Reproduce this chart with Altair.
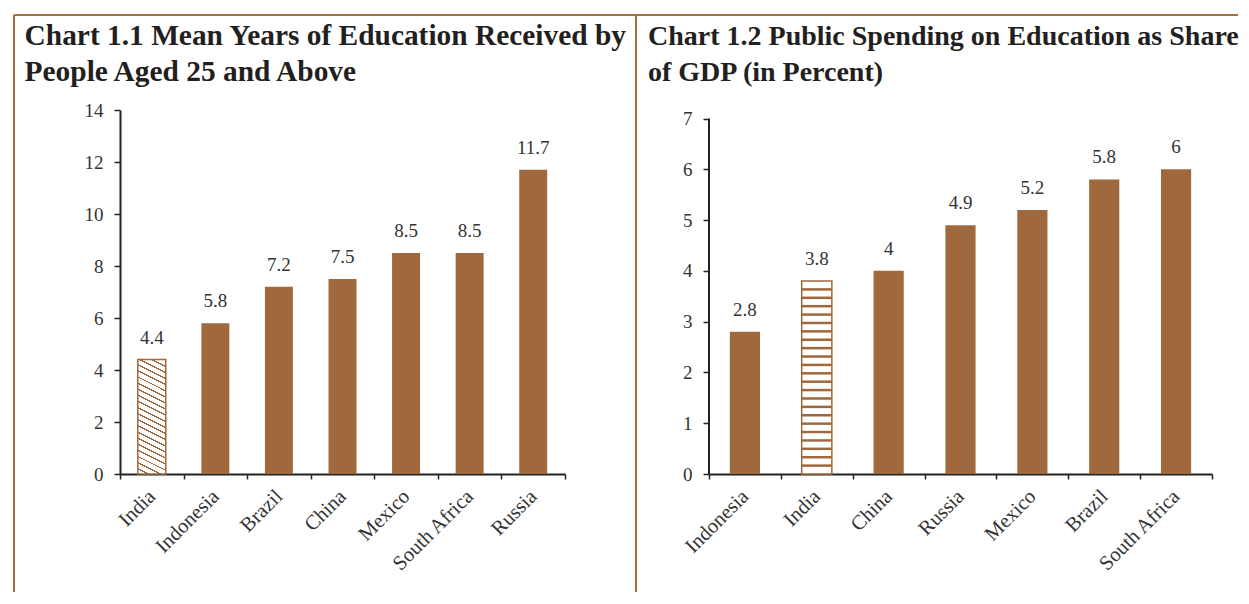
import altair as alt
import pandas as pd

# ---------------- data ----------------
c1_countries = ["India", "Indonesia", "Brazil", "China", "Mexico", "South Africa", "Russia"]
c1_values = [4.4, 5.8, 7.2, 7.5, 8.5, 8.5, 11.7]
c1_ticks = [0, 2, 4, 6, 8, 10, 12, 14]
c1_title = ["Chart 1.1 Mean Years of  Education Received by", "People Aged 25 and Above"]

c2_countries = ["Indonesia", "India", "China", "Russia", "Mexico", "Brazil", "South Africa"]
c2_values = [2.8, 3.8, 4, 4.9, 5.2, 5.8, 6]
c2_ticks = [0, 1, 2, 3, 4, 5, 6, 7]
c2_title = ["Chart 1.2 Public Spending on Education as Share", "of  GDP (in Percent)"]

highlight = "India"

# ---------------- style ----------------
BROWN = "#A0693D"
BORDER = "#A8703F"
AXIS = "#222222"
LABEL = "#333333"
TITLE = "#231f20"
FONT = "Liberation Serif"


def stripes(n, frac, x1, y1, x2, y2):
    stops = []
    p = 1.0 / n
    for k in range(n):
        a = round(k * p, 5)
        b = round(k * p + frac * p, 5)
        c = round((k + 1) * p, 5)
        stops += [alt.GradientStop(offset=a, color=BROWN),
                  alt.GradientStop(offset=b, color=BROWN),
                  alt.GradientStop(offset=b, color="white"),
                  alt.GradientStop(offset=c, color="white")]
    return alt.LinearGradient(gradient="linear", stops=stops, x1=x1, y1=y1, x2=x2, y2=y2)


diag_fill = stripes(21, 0.24, 1, 0, 0.8647, 1.1058)

one = pd.DataFrame({"k": [0]})


def panel(countries, values, ticks, ymax, width, height, bandfrac, hatch,
          title_lines, title_x, title_size, y_domain_line):
    df = pd.DataFrame({"country": countries, "value": values,
                       "label": [f"{v:g}" for v in values]})
    x = alt.X("country:N", sort=countries,
              scale=alt.Scale(domain=countries, paddingInner=0, paddingOuter=0),
              axis=alt.Axis(title=None, labelAngle=-45, labelAlign="right",
                            labelBaseline="middle", tickBand="extent",
                            tickSize=5, labelPadding=14, labelFont=FONT,
                            labelFontSize=20.5, labelColor=LABEL))
    y = alt.Y("value:Q", scale=alt.Scale(domain=[0, ymax], nice=False, zero=True),
              axis=alt.Axis(title=None, values=ticks, tickSize=6, labelPadding=11,
                            labelFont=FONT, labelFontSize=19, labelColor=LABEL,
                            domain=not y_domain_line))
    base = alt.Chart(df).encode(x=x, y=y)
    solid = base.transform_filter(alt.datum.country != highlight).mark_bar(
        color=BROWN, width=alt.RelativeBandSize(bandfrac))
    if hatch == "horizontal":
        hatched = base.transform_filter(alt.datum.country == highlight).mark_bar(
            fill="white", stroke=BROWN, strokeWidth=1.5, width=alt.RelativeBandSize(bandfrac))
        hv = values[countries.index(highlight)]
        n = 23
        hdf = pd.DataFrame({"country": [highlight] * (n - 1),
                            "value": [hv * k / n for k in range(1, n)]})
        stripe_marks = alt.Chart(hdf).mark_tick(
            color=BROWN, thickness=2.5, opacity=1,
            size=width / len(countries) * bandfrac
        ).encode(x=x, y=y)
        hatch_layers = [hatched, stripe_marks]
    else:
        hatched = base.transform_filter(alt.datum.country == highlight).mark_bar(
            fill=hatch, stroke=BROWN, strokeWidth=1.5, width=alt.RelativeBandSize(bandfrac))
        hatch_layers = [hatched]
    labels = base.mark_text(baseline="alphabetic", dy=-16, font=FONT, fontSize=19,
                            color=LABEL).encode(text="label:N")
    title = alt.Chart(one).mark_text(
        align="left", baseline="alphabetic", font=FONT, fontWeight="bold",
        fontSize=title_size, lineHeight=36.8, color=TITLE
    ).encode(x=alt.value(title_x), y=alt.value(-65.5), text=alt.value(title_lines))
    layers = [solid] + hatch_layers + [labels, title]
    if y_domain_line:
        layers.append(alt.Chart(one).mark_rule(color=AXIS, strokeWidth=2).encode(
            x=alt.value(0), y=alt.datum(0), y2=alt.datum(ticks[-1])))
    return layers, width, height


# left panel
l_layers, lw, lh = panel(c1_countries, c1_values, c1_ticks, 14, 445, 364, 0.44,
                         diag_fill, c1_title, -95.4, 29.4, False)
borders = [
    alt.Chart(one).mark_rule(color=BORDER, strokeWidth=2).encode(
        x=alt.value(-106), x2=alt.value(1118), y=alt.value(-95)),
    alt.Chart(one).mark_rule(color=BORDER, strokeWidth=2).encode(
        x=alt.value(-106), y=alt.value(-95), y2=alt.value(482)),
    alt.Chart(one).mark_rule(color=BORDER, strokeWidth=2).encode(
        x=alt.value(516), y=alt.value(-95), y2=alt.value(482)),
]
left = alt.layer(*(l_layers + borders)).properties(width=lw, height=lh)

# right panel
r_layers, rw, rh = panel(c2_countries, c2_values, c2_ticks, 7 * 364 / 355.5, 503, 364, 0.42,
                         "horizontal", c2_title, -61, 28, True)
right = alt.layer(*r_layers).properties(width=rw, height=rh)

chart = alt.hconcat(left, right, spacing=144, bounds="flush").properties(
    padding={"left": 5, "top": 6, "right": 0, "bottom": 0}
).configure_view(stroke=None).configure_axis(
    grid=False, labelFont=FONT, labelFontSize=19, labelColor=LABEL,
    domainColor=AXIS, domainWidth=2, tickColor=AXIS, tickWidth=1.5
)

chart.save("out.html", embed_options={"renderer": "svg", "actions": False})
